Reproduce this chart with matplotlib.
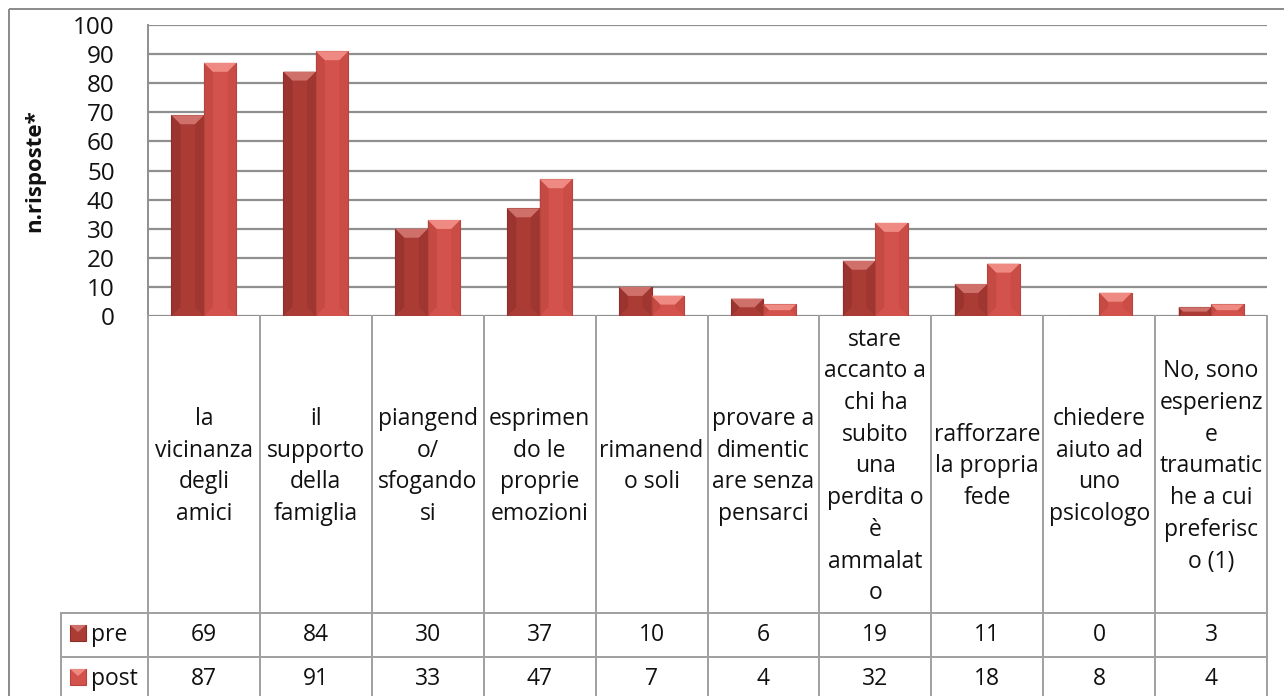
import numpy as np
import matplotlib
matplotlib.use("Agg")
import matplotlib.pyplot as plt
from matplotlib.patches import Polygon, Rectangle

plt.rcParams['font.family'] = ['Open Sans', 'DejaVu Sans']

# Data
categories = [
    "la\nvicinanza\ndegli\namici",
    "il\nsupporto\ndella\nfamiglia",
    "piangend\no/\nsfogando\nsi",
    "esprimen\ndo le\nproprie\nemozioni",
    "rimanend\no soli",
    "provare a\ndimentic\nare senza\npensarci",
    "stare\naccanto a\nchi ha\nsubito\nuna\nperdita o\nè\nammalat\no",
    "rafforzare\nla propria\nfede",
    "chiedere\naiuto ad\nuno\npsicologo",
    "No, sono\nesperienz\ne\ntraumatic\nhe a cui\npreferisc\no (1)",
]
series_names = ["pre", "post"]
pre = [69, 84, 30, 37, 10, 6, 19, 11, 0, 3]
post = [87, 91, 33, 47, 7, 4, 32, 18, 8, 4]

face = ["#ab3b35", "#d3524b"]
cap = ["#d0706a", "#ee8a82"]
side = ["#8e2d29", "#b8443e"]
grid_c = "#8f8f8f"
line_c = "#a0a0a0"
txt_c = "#111111"
fs = 16.5

W, H = 1284, 696
fig = plt.figure(figsize=(W / 100, H / 100), dpi=100)

# pixel layout of the plot area
px_left, px_right = 148, 1267
px_top, px_zero = 25, 316
ax = fig.add_axes([px_left / W, 1 - px_zero / H,
                   (px_right - px_left) / W, (px_zero - px_top) / H])

n = len(categories)
x = np.arange(n)
bw = 0.29
ax.set_xlim(-0.5, n - 0.5)
ax.set_ylim(0, 100)
ax.set_yticks(np.arange(0, 101, 10))
ax.tick_params(axis='y', length=0, pad=24, labelsize=17.5, labelcolor=txt_c)
ax.tick_params(axis='x', length=0, labelbottom=False)
ax.yaxis.grid(True, color=grid_c, linewidth=1.6)
ax.set_axisbelow(True)
for s in ["top", "right", "bottom"]:
    ax.spines[s].set_visible(False)
ax.spines["left"].set_color(grid_c)
ax.spines["left"].set_linewidth(1.4)

# bevel size in data units (approx 9 px)
ux = (px_right - px_left) / n
uy = (px_zero - px_top) / 100
bev_x, bev_y = 9 / ux, 9 / uy

for k, vals in enumerate([pre, post]):
    offs = -bw / 2 if k == 0 else bw / 2
    bars = ax.bar(x + offs, vals, bw, color=face[k], edgecolor=side[k],
                  linewidth=0.8, zorder=3)
    for b in bars:
        h = b.get_height()
        if h <= 0:
            continue
        x0, x1 = b.get_x(), b.get_x() + b.get_width()
        by = min(bev_y, h / 2)
        bx = bev_x * by / bev_y
        # left and right side bevels
        ax.add_patch(Polygon([(x0, 0), (x0 + bx, by), (x0 + bx, h - by), (x0, h)],
                             closed=True, color=side[k], alpha=0.55, lw=0, zorder=4))
        ax.add_patch(Polygon([(x1, 0), (x1 - bx, by), (x1 - bx, h - by), (x1, h)],
                             closed=True, color=side[k], alpha=0.35, lw=0, zorder=4))
        # top cap
        ax.add_patch(Polygon([(x0, h), (x1, h), (x1 - bx, h - by), (x0 + bx, h - by)],
                             closed=True, color=cap[k], lw=0, zorder=5))

fig.text(35 / W, 1 - 171 / H, "n.risposte*", rotation=90, ha="center", va="center",
         fontsize=16, fontweight="bold", color=txt_c)

# overlay in pixel coordinates for the data table
ov = fig.add_axes([0, 0, 1, 1])
ov.set_xlim(0, W)
ov.set_ylim(H, 0)
ov.axis("off")

# outer chart border
ov.add_patch(Rectangle((9, 9), W, H, fill=False, edgecolor="#8a8a8a", lw=1.4))

row_top, row_mid, row_bot = 613, 657, 701
hdr_left = 61
cell = (px_right - px_left) / n

for i in range(n + 1):
    xc = px_left + i * cell
    ov.plot([xc, xc], [px_zero, H + 5], color=line_c, lw=1.4)
ov.plot([hdr_left, px_right], [row_top, row_top], color=line_c, lw=1.4)
ov.plot([hdr_left, px_right], [row_mid, row_mid], color=line_c, lw=1.4)
ov.plot([hdr_left, hdr_left], [row_top, H + 5], color=line_c, lw=1.4)

for i, lab in enumerate(categories):
    xc = px_left + (i + 0.5) * cell
    ov.text(xc, (px_zero + row_top) / 2 + 2, lab, ha="center", va="center",
            fontsize=fs, linespacing=1.43, color=txt_c)

row_y = [(row_top + row_mid) / 2, (row_mid + row_bot) / 2]
for k, (name, vals) in enumerate(zip(series_names, [pre, post])):
    yc = row_y[k]
    ov.add_patch(Rectangle((70, yc - 10), 16, 16, facecolor=face[k],
                           edgecolor=side[k], lw=0.8))
    ov.add_patch(Polygon([(70, yc - 10), (86, yc - 10), (78, yc - 3)],
                         closed=True, color=cap[k], lw=0))
    ov.text(91, yc, name, ha="left", va="center", fontsize=fs, color=txt_c)
    for i, v in enumerate(vals):
        ov.text(px_left + (i + 0.5) * cell, yc, str(v), ha="center", va="center",
                fontsize=fs, color=txt_c)

fig.savefig("out.png", dpi=100)
